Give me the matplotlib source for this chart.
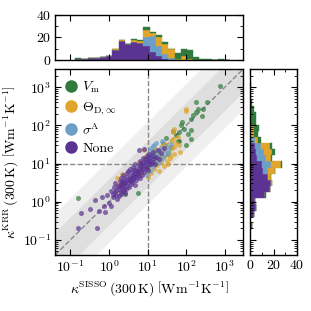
import numpy as np
import matplotlib
matplotlib.use("Agg")
import matplotlib.pyplot as plt
from matplotlib.lines import Line2D
from matplotlib.ticker import MultipleLocator

plt.rcParams.update({
    "font.family": "serif",
    "font.serif": ["cmr10", "DejaVu Serif"],
    "mathtext.fontset": "cm",
    "axes.formatter.use_mathtext": True,
    "font.size": 10,
    "xtick.direction": "in",
    "ytick.direction": "in",
    "xtick.top": True,
    "ytick.right": True,
    "axes.linewidth": 1.0,
})

# colours per feature set
c_vm = "#2f7a3c"
c_theta = "#e0a52a"
c_sigma = "#6c9fc8"
c_none = "#5b3392"

# scatter data: kappa_SISSO, kappa_KRR  (W m^-1 K^-1)
vm_sisso = [0.16, 2.6, 5.5, 4.2, 6.7, 13.5, 16, 25, 33, 41, 45, 55, 60, 66, 66, 74, 80, 90,
            100, 110, 130, 135, 135, 150, 180, 180, 200, 255, 270, 350, 750, 12, 20, 30]
vm_krr = [1.22, 1.6, 1.7, 4.2, 8.3, 18, 22, 35, 18, 27, 70, 55, 38, 66, 40, 100, 125, 80,
          30, 60, 45, 74, 150, 190, 225, 410, 275, 180, 275, 410, 1070, 11, 14, 48]

theta_sisso = [1.6, 2.2, 1.7, 6.7, 6, 8, 9, 7.5, 9.5, 10.5, 11, 12, 12.5, 13, 14, 15, 15.5,
               16, 17, 18, 19, 20, 21, 22, 23, 24, 25, 26, 27, 28, 30, 31, 33, 35, 37, 39,
               41, 44, 45, 45, 49, 49, 49, 55, 60, 66, 70, 100, 100]
theta_krr = [4.2, 5.4, 2.8, 5.4, 11, 22, 16, 9, 6, 4.5, 8, 13, 5.5, 19, 10, 7, 15,
             24, 12, 9, 18, 6.5, 14, 11, 28, 16, 23, 8.5, 15, 32, 30, 12, 9.8, 20, 14, 16,
             38, 25, 45, 66, 27, 18, 81, 35, 50, 30, 20, 275, 245]

sigma_sisso = [8.5, 9, 9.5, 10, 10.5, 11, 11.5, 12, 12, 12.5, 13, 13.5, 14, 14.5, 15, 15.5,
               16, 16.5, 17, 18, 19, 20, 21, 22, 23, 24, 26, 28, 30, 33, 36, 40, 9.8, 11.8,
               13.8, 6.5]
sigma_krr = [10, 14, 7, 18, 12, 9, 22, 15, 11, 25, 13, 8, 17, 30, 12, 20,
             10, 16, 35, 14, 22, 11, 18, 26, 13, 40, 16, 21, 28, 19, 24, 32, 5, 6.5,
             28, 9]

none_sisso = [0.16, 0.19, 0.32, 0.43, 0.48, 0.55, 0.74, 0.65, 0.80, 0.9, 1.0, 1.1, 1.15,
              1.25, 1.3, 1.35, 1.4, 1.45, 1.5, 1.55, 1.6, 1.7,
              1.8, 1.85, 1.9, 1.95, 2.0, 2.0, 2.05, 2.1, 2.15, 2.2, 2.25, 2.3, 2.35, 2.4, 2.45, 2.5, 2.55,
              2.6, 2.7, 2.8, 2.9, 3.0, 3.0, 3.1, 3.2, 3.3, 3.4, 3.5, 3.55, 3.6, 3.7,
              3.8, 3.9, 4.0, 4.1, 4.2, 4.3, 4.4, 4.5, 4.6, 4.7, 4.8, 4.9, 5.0, 5.1, 5.2, 5.3,
              5.5, 5.7, 5.9, 6.0, 6.2, 6.4, 6.5, 6.7, 6.9, 7.0, 7.2, 7.4, 7.6, 7.8,
              8.0, 8.3, 8.6, 8.9, 9.2, 9.5, 9.8, 10.1, 10.4, 10.7, 11.0, 11.2,
              11.6, 12.2, 12.8, 13.5, 14.2, 15.0, 16.0, 17, 18.5, 20, 22, 26, 8.2, 6.0]
none_krr = [0.20, 0.50, 0.64, 1.12, 0.20, 0.58, 0.79, 1.3, 0.55, 1.5, 0.9, 1.9, 0.75,
            1.6, 1.3, 2.4, 1.8, 3.0, 1.5, 2.0, 1.2, 2.6,
            2.2, 1.4, 3.5, 2.6, 1.8, 4.2, 2.9, 1.6, 3.2, 2.4, 5.0, 1.9, 2.8, 3.8, 2.1, 3.3, 1.7,
            3.0, 2.2, 4.5, 3.6, 2.6, 5.5, 3.2, 6.5, 2.4, 4.0, 3.4, 7.0, 4.8, 2.9,
            4.2, 6.0, 3.3, 5.0, 8.0, 3.8, 4.6, 6.8, 2.8, 5.6, 9.5, 4.4, 7.2, 3.6, 6.2, 5.2,
            6.5, 4.8, 9.0, 5.6, 12, 7.5, 4.2, 10.5, 6.2, 8.5, 5.0, 14, 7.0, 11,
            9.0, 6.0, 13, 7.5, 11, 16, 8.0, 12, 6.8, 10, 14, 18,
            12, 9.5, 16, 11, 20, 14, 10, 15, 22, 13, 19, 25, 24, 23]

# histogram counts per log bin (same bins on both marginals)
bin_lo, bin_hi, n_bins = -0.878, 3.147, 25
top_none = [1, 1, 2, 2, 3, 4, 9, 17, 14, 16, 15, 12, 7, 4, 1, 0, 0, 0, 0, 0, 0, 0, 0, 0, 0]
top_sigma = [0, 0, 0, 0, 0, 0, 0, 0, 0, 0, 0, 8, 14, 8, 4, 2, 0, 0, 0, 0, 0, 0, 0, 0, 0]
top_theta = [0, 0, 0, 0, 0, 0, 1, 1, 0, 2, 2, 7, 3, 8, 9, 8, 1, 4, 1, 0, 0, 0, 0, 0, 0]
top_vm = [1, 0, 0, 0, 0, 0, 0, 0, 0, 1, 1, 2, 1, 2, 2, 0, 5, 6, 8, 3, 1, 1, 0, 1, 0]

right_none = [0, 2, 0, 3, 5, 4, 13, 17, 18, 15, 11, 10, 6, 5, 4, 1, 0, 0, 0, 0, 0, 0, 0, 0, 0]
right_sigma = [0, 0, 0, 0, 0, 0, 0, 0, 0, 0, 4, 8, 8, 7, 5, 3, 1, 1, 0, 0, 0, 0, 0, 0, 0]
right_theta = [0, 0, 0, 0, 0, 0, 0, 0, 1, 3, 6, 8, 4, 7, 8, 3, 2, 2, 1, 0, 0, 0, 0, 0, 0]
right_vm = [0, 0, 0, 0, 0, 0, 1, 0, 0, 0, 0, 1, 1, 2, 2, 2, 4, 5, 4, 5, 3, 2, 1, 0, 1]

labels = [r"$V_\mathrm{m}$", r"$\Theta_{\mathrm{D},\infty}$", r"$\sigma^\mathrm{A}$", "None"]
colors = [c_vm, c_theta, c_sigma, c_none]

lim = (0.04, 3000)

fig = plt.figure(figsize=(3.11, 3.11), dpi=100)
ax = fig.add_axes([0.177, 0.180, 0.605, 0.598])
ax_top = fig.add_axes([0.177, 0.807, 0.605, 0.145], sharex=ax)
ax_right = fig.add_axes([0.804, 0.180, 0.151, 0.598], sharey=ax)

# shaded bands and guide lines
xx = np.logspace(np.log10(lim[0]) - 1, np.log10(lim[1]) + 1, 50)
ax.fill_between(xx, xx / 12, xx * 12, color="#efefef", lw=0, zorder=0)
ax.fill_between(xx, xx / 4, xx * 4, color="#dedede", lw=0, zorder=0)
ax.plot(lim, lim, ls="--", color="#8a8a8a", lw=1.0, zorder=1)
ax.axvline(10, ls="--", color="#8a8a8a", lw=1.0, zorder=1)
ax.axhline(10, ls="--", color="#8a8a8a", lw=1.0, zorder=1)

ax.scatter(vm_sisso, vm_krr, s=13, color=c_vm, alpha=0.7, lw=0, zorder=2)
ax.scatter(theta_sisso, theta_krr, s=13, color=c_theta, alpha=0.7, lw=0, zorder=2)
ax.scatter(sigma_sisso, sigma_krr, s=13, color=c_sigma, alpha=0.7, lw=0, zorder=2)
ax.scatter(none_sisso, none_krr, s=13, color=c_none, alpha=0.7, lw=0, zorder=2)

ax.set_xscale("log")
ax.set_yscale("log")
ax.set_xlim(lim)
ax.set_ylim(lim)
ax.set_xticks([0.1, 1, 10, 100, 1000])
ax.set_yticks([0.1, 1, 10, 100, 1000])
ax.set_xlabel(r"$\kappa^{\mathrm{SISSO}}\,(300\,\mathrm{K})\ \left[\mathrm{Wm^{-1}K^{-1}}\right]$",
              labelpad=3)
ax.set_ylabel(r"$\kappa^{\mathrm{KRR}}\,(300\,\mathrm{K})\ \left[\mathrm{Wm^{-1}K^{-1}}\right]$",
              labelpad=2)

handles = [Line2D([], [], ls="", marker="o", ms=8, color=c) for c in colors]
ax.legend(handles, labels, loc="upper left", frameon=False, handletextpad=0.4,
          labelspacing=0.38, borderaxespad=0.35, handlelength=0.8, fontsize=10)

# marginal histograms
edges = np.logspace(bin_lo, bin_hi, n_bins + 1)
left = edges[:-1]
width = np.diff(edges)
stack_top = [top_none, top_sigma, top_theta, top_vm]
stack_right = [right_none, right_sigma, right_theta, right_vm]
cols = [c_none, c_sigma, c_theta, c_vm]

base = np.zeros(n_bins)
for cnt, c in zip(stack_top, cols):
    ax_top.bar(left, cnt, width=width, align="edge", bottom=base, color=c, edgecolor=c, lw=0.3)
    base = base + np.array(cnt)

base = np.zeros(n_bins)
for cnt, c in zip(stack_right, cols):
    ax_right.barh(left, cnt, height=width, align="edge", left=base, color=c, edgecolor=c, lw=0.3)
    base = base + np.array(cnt)

ax_top.set_ylim(0, 40)
ax_top.set_yticks([0, 20, 40])
ax_top.yaxis.set_minor_locator(MultipleLocator(10))
ax_top.tick_params(labelbottom=False)
ax_right.set_xlim(0, 40)
ax_right.set_xticks([0, 20, 40])
ax_right.xaxis.set_minor_locator(MultipleLocator(10))
ax_right.tick_params(labelleft=False)

for a in (ax, ax_top, ax_right):
    a.tick_params(which="major", length=4, width=0.8, pad=3)
    a.tick_params(which="minor", length=2, width=0.6)

fig.savefig("out.png", dpi=100)
